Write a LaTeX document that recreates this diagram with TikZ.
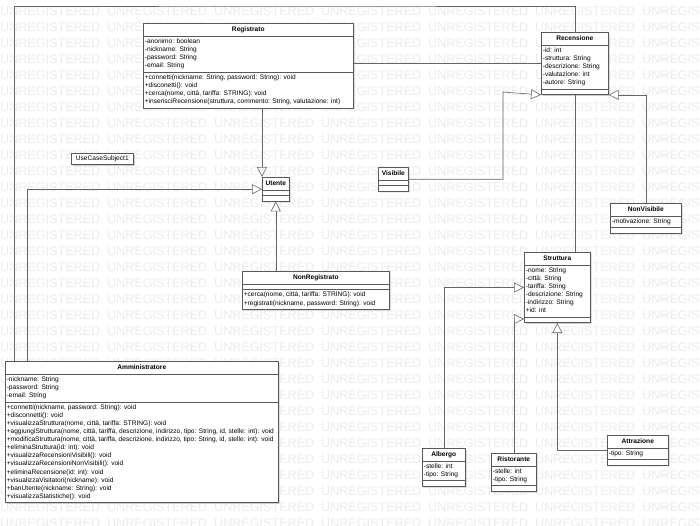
\documentclass[tikz,border=0pt]{standalone}
\usepackage{fontspec}
\setmainfont{Liberation Sans}
\usetikzlibrary{arrows.meta,shapes.multipart,shadows}

\newcommand{\umlrows}[1]{\begin{tabular}{@{}l@{}}#1\end{tabular}}
\newcommand{\umlhead}[1]{\rule[-2.5pt]{0pt}{9pt}\textbf{#1}}
\newcommand{\umlnone}{\rule{0pt}{2pt}}

\begin{document}
\begin{tikzpicture}[x=1pt,y=-1pt,
    umlclass/.style={draw=black!65, fill=white, line width=0.6pt,
      rectangle split, rectangle split parts=3,
      rectangle split part align={center,left,left},
      inner xsep=1.5pt, inner ysep=1.5pt, anchor=north west,
      font=\fontsize{6.6}{8.1}\selectfont,
      drop shadow={shadow xshift=1.2pt, shadow yshift=-1.2pt, fill=black!20, opacity=1}},
    gen/.style={draw=black!60, line width=0.6pt, -{Triangle[open, length=10pt, width=10pt, fill=white]}},
    assoc/.style={draw=black!60, line width=0.6pt},
    watermark/.style={text=black!8, font=\fontsize{12.6}{12.6}\selectfont, anchor=west, inner sep=0pt}]

  \useasboundingbox (0,0) rectangle (700,525);
  \clip (0,0) rectangle (700,525);

  % watermark
  \foreach \r in {0,...,32}
    \foreach \c in {0,...,6}
      \node[watermark] (wm-\r-\c) at (107*\c, 11+16*\r) {UNREGISTERED};

  % users
  \node[umlclass, minimum width=210pt] (Registrato) at (143,23)
    {\umlhead{Registrato}
     \nodepart{second}\umlrows{-anonimo: boolean\\-nickname: String\\-password: String\\-email: String}
     \nodepart{third}\umlrows{+connetti(nickname: String, password: String): void\\+disconetti(): void\\+cerca(nome, città, tariffa: STRING): void\\+inserisciRecensione(struttura, commento: String, valutazione: int)}};

  \node[draw=black!65, fill=white, line width=0.6pt, anchor=north west,
        minimum width=62pt, minimum height=11pt, inner sep=0pt,
        font=\fontsize{6.6}{8.1}\selectfont,
        drop shadow={shadow xshift=1.2pt, shadow yshift=-1.2pt, fill=black!20, opacity=1}]
    (UseCaseSubject1) at (71,153) {UseCaseSubject1};

  \node[umlclass, minimum width=27pt] (Utente) at (262,177)
    {\umlhead{Utente}\nodepart{second}\umlnone\nodepart{third}\umlnone};

  \node[umlclass, minimum width=147pt] (NonRegistrato) at (242,271)
    {\umlhead{NonRegistrato}
     \nodepart{second}\umlnone
     \nodepart{third}\umlrows{+cerca(nome, città, tariffa: STRING): void\\+registrati(nickname, password: String): void}};

  \node[umlclass, minimum width=273pt] (Amministratore) at (5,361)
    {\umlhead{Amministratore}
     \nodepart{second}\umlrows{-nickname: String\\-password: String\\-email: String}
     \nodepart{third}\umlrows{+connetti(nickname, password: String): void\\
       +disconnetti(): void\\
       +visualizzaStruttura(nome, città, tariffa: STRING): void\\
       +aggiungiStruttura(nome, città, tariffa, descrizione, indirizzo, tipo: String, id, stelle: int): void\\
       +modificaStruttura(nome, città, tariffa, descrizione, indirizzo, tipo: String, id, stelle: int): void\\
       +eliminaStruttura(id: int): void\\
       +visualizzaRecensioniVisibili(): void\\
       +visualizzaRecensioniNonVisibili(): void\\
       +eliminaRecensione(id: int): void\\
       +visualizzaVisitatori(nickname): void\\
       +banUtente(nickname: String): void\\
       +visualizzaStatistiche(): void}};

  % reviews
  \node[umlclass, minimum width=67pt] (Recensione) at (541,32)
    {\umlhead{Recensione}
     \nodepart{second}\umlrows{-id: int\\-struttura: String\\-descrizione: String\\-valutazione: int\\-autore: String}
     \nodepart{third}\umlnone};

  \node[umlclass, minimum width=30pt] (Visibile) at (378,167)
    {\umlhead{Visibile}\nodepart{second}\umlnone\nodepart{third}\umlnone};

  \node[umlclass, minimum width=71pt] (NonVisibile) at (610,203)
    {\umlhead{NonVisibile}
     \nodepart{second}\umlrows{-motivazione: String}
     \nodepart{third}\umlnone};

  % structures
  \node[umlclass, minimum width=66pt] (Struttura) at (524,252)
    {\umlhead{Struttura}
     \nodepart{second}\umlrows{-nome: String\\-città: String\\-tariffa: String\\-descrizione: String\\-indirizzo: String\\+id: int}
     \nodepart{third}\umlnone};

  \node[umlclass, minimum width=43pt] (Albergo) at (422,448)
    {\umlhead{Albergo}
     \nodepart{second}\umlrows{-stelle: int\\-tipo: String}
     \nodepart{third}\umlnone};

  \node[umlclass, minimum width=45pt] (Ristorante) at (491,453)
    {\umlhead{Ristorante}
     \nodepart{second}\umlrows{-stelle: int\\-tipo: String}
     \nodepart{third}\umlnone};

  \node[umlclass, minimum width=61pt] (Attrazione) at (607,435)
    {\umlhead{Attrazione}
     \nodepart{second}\umlrows{-tipo: String}
     \nodepart{third}\umlnone};

  % bends
  \coordinate (topbend) at (300,6);
  \coordinate (visbend) at (503,92);

  % associations
  \draw[assoc] ([xshift=9pt]Amministratore.north west) |- (topbend) -| (Recensione.north);
  \draw[assoc] (Recensione.west -| Registrato.east) -- (Recensione.west);
  \draw[assoc] (Recensione.south) -- (Recensione.south |- Struttura.north);

  % generalizations
  \draw[gen] (Utente.north west |- Registrato.south) -- (Utente.north west);
  \draw[gen] ([xshift=22pt]Amministratore.north west) |- (Utente.west);
  \draw[gen] (Utente.south |- NonRegistrato.north) -- (Utente.south);
  \draw[gen] (Visibile.east) -| (visbend) -- (Recensione.south west);
  \draw[gen] (NonVisibile.north) |- (Recensione.south east);
  \draw[gen] (Albergo.north) |- (Struttura.west);
  \draw[gen] (Ristorante.north) |- ([yshift=4pt]Struttura.south west);
  \draw[gen] (Attrazione.west) -| (Struttura.south);
\end{tikzpicture}
\end{document}
